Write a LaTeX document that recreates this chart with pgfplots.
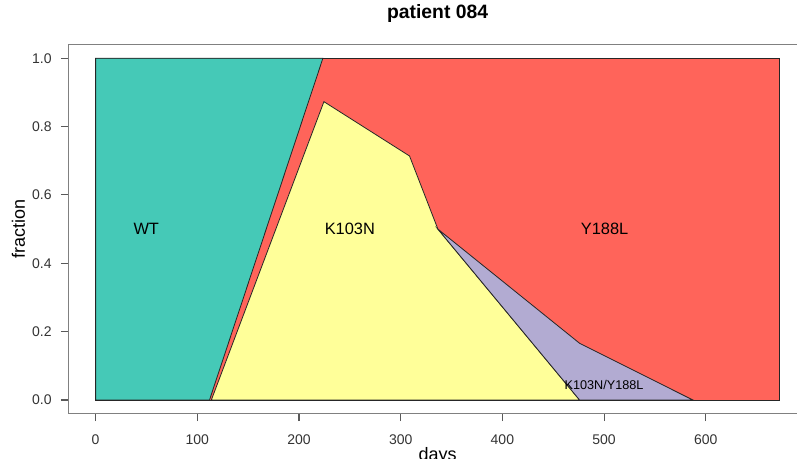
\documentclass[border=0pt]{standalone}
\usepackage{fontspec}
\setmainfont{Liberation Sans}
\usepackage{pgfplots}
\pgfplotsset{compat=1.18}
\definecolor{wtcol}{RGB}{69,201,183}
\definecolor{redcol}{RGB}{255,100,90}
\definecolor{yelcol}{RGB}{255,255,153}
\definecolor{purcol}{RGB}{178,171,210}
\begin{document}
\begin{tikzpicture}
\path[use as bounding box] (0,0) rectangle (597.75pt,344.25pt);
\begin{axis}[
  at={(51.2pt,34pt)}, anchor=south west,
  width=554pt, height=276.8pt, scale only axis,
  xmin=-26.9, xmax=699.5, ymin=-0.04, ymax=1.04,
  xtick={0,100,200,300,400,500,600},
  ytick={0,0.2,0.4,0.6,0.8,1.0},
  tick pos=left, tick align=outside, major tick length=5.6pt,
  axis line style={draw=black!50, line width=0.8pt},
  tick style={draw=black!65, line width=0.8pt},
  /pgf/number format/assume math mode=true,
  ticklabel style={font=\fontsize{10.5}{12}\selectfont, text=black!80},
  yticklabel style={/pgf/number format/.cd, fixed, fixed zerofill, precision=1, /tikz/.cd, xshift=-3.4pt},
  xticklabel style={yshift=-7pt},
  title={patient 084},
  title style={font=\bfseries\fontsize{14.5}{16}\selectfont, at={(axis description cs:0.5,1)}, anchor=base, yshift=13.4pt},
  xlabel={days},
  xlabel style={font=\fontsize{13.5}{15}\selectfont, at={(axis description cs:0.5,0)}, anchor=base, yshift=-35.5pt},
  ylabel={fraction},
  ylabel style={font=\fontsize{13.5}{15}\selectfont, at={(axis description cs:0,0.5)}, anchor=base, yshift=32.5pt},
]
\addplot[fill=redcol, draw=black!85, line width=0.6pt] coordinates {(0,0) (0,1) (672.6,1) (672.6,0)} -- cycle;
\addplot[fill=wtcol, draw=black!85, line width=0.6pt] coordinates {(0,0) (0,1) (223.5,1) (112,0)} -- cycle;
\addplot[fill=yelcol, draw=black!85, line width=0.6pt] coordinates {(113.8,0) (224.5,0.873) (308.7,0.714) (336.6,0.5) (475.9,0)} -- cycle;
\addplot[fill=purcol, draw=black!85, line width=0.6pt] coordinates {(336.6,0.5) (475.9,0.166) (587.3,0) (475.9,0)} -- cycle;
\node[font=\fontsize{12.3}{14}\selectfont] at (axis cs:49.8,0.5) {WT};
\node[font=\fontsize{12.3}{14}\selectfont] at (axis cs:250,0.5) {K103N};
\node[font=\fontsize{12.3}{14}\selectfont] at (axis cs:500.5,0.5) {Y188L};
\node[font=\fontsize{9.5}{11}\selectfont] at (axis cs:500,0.044) {K103N/Y188L};
\end{axis}
\end{tikzpicture}
\end{document}
